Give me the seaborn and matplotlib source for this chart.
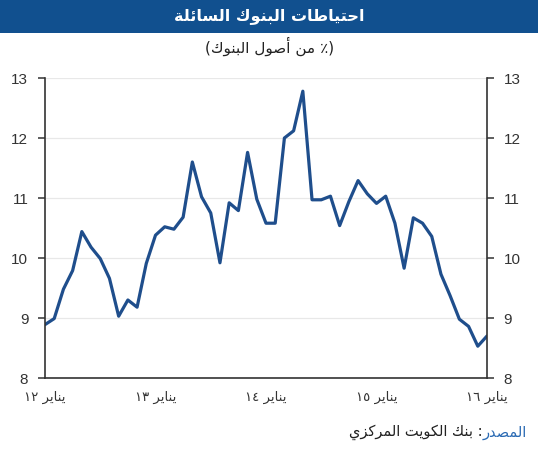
import re
import matplotlib
matplotlib.use("Agg")
import matplotlib.pyplot as plt
import seaborn as sns
import pandas as pd
from matplotlib.patches import Rectangle
from matplotlib.ticker import MultipleLocator

# ---------------- data ----------------
months = list(range(49))  # Jan 2012 .. Jan 2016, monthly
reserves = [8.89, 8.99, 9.48, 9.79, 10.44, 10.18, 9.99, 9.66, 9.03, 9.30, 9.18, 9.91,
            10.38, 10.52, 10.48, 10.68, 11.60, 11.02, 10.75, 9.92, 10.92, 10.79, 11.76, 10.98,
            10.58, 10.58, 12.00, 12.12, 12.78, 10.97, 10.97, 11.03, 10.54, 10.94, 11.29, 11.07,
            10.91, 11.03, 10.58, 9.83, 10.67, 10.58, 10.36, 9.73, 9.37, 8.98, 8.86, 8.53, 8.70]
xtick_pos = [0, 12, 24, 36, 48]
xtick_labels = ["يناير ١٢", "يناير ١٣", "يناير ١٤", "يناير ١٥", "يناير ١٦"]
ytick_vals = [8, 9, 10, 11, 12, 13]
title = "احتياطات البنوك السائلة"
subtitle = "(٪ من أصول البنوك)"
source_label = "المصدر"
source_text = ": بنك الكويت المركزي"

# ---------------- minimal Arabic shaping ----------------
FORMS = {
    '\u0627': (0xFE8D, 0xFE8E, None, None),
    '\u0623': (0xFE83, 0xFE84, None, None),
    '\u0628': (0xFE8F, 0xFE90, 0xFE91, 0xFE92),
    '\u0629': (0xFE93, 0xFE94, None, None),
    '\u062A': (0xFE95, 0xFE96, 0xFE97, 0xFE98),
    '\u062D': (0xFEA1, 0xFEA2, 0xFEA3, 0xFEA4),
    '\u062F': (0xFEA9, 0xFEAA, None, None),
    '\u0631': (0xFEAD, 0xFEAE, None, None),
    '\u0632': (0xFEAF, 0xFEB0, None, None),
    '\u0633': (0xFEB1, 0xFEB2, 0xFEB3, 0xFEB4),
    '\u0635': (0xFEB9, 0xFEBA, 0xFEBB, 0xFEBC),
    '\u0637': (0xFEC1, 0xFEC2, 0xFEC3, 0xFEC4),
    '\u0643': (0xFED9, 0xFEDA, 0xFEDB, 0xFEDC),
    '\u0644': (0xFEDD, 0xFEDE, 0xFEDF, 0xFEE0),
    '\u0645': (0xFEE1, 0xFEE2, 0xFEE3, 0xFEE4),
    '\u0646': (0xFEE5, 0xFEE6, 0xFEE7, 0xFEE8),
    '\u0648': (0xFEED, 0xFEEE, None, None),
    '\u064A': (0xFEF1, 0xFEF2, 0xFEF3, 0xFEF4),
    '\u0626': (0xFE89, 0xFE8A, 0xFE8B, 0xFE8C),
}
DIG = "0123456789\u0660\u0661\u0662\u0663\u0664\u0665\u0666\u0667\u0668\u0669"
MIRROR = str.maketrans("()", ")(")


def _joins_left(c):
    return c in FORMS and FORMS[c][2] is not None


def shape(s):
    res = []
    n = len(s)
    for i, c in enumerate(s):
        if c not in FORMS:
            res.append(c)
            continue
        prev = s[i - 1] if i > 0 else None
        nxt = s[i + 1] if i + 1 < n else None
        jp = prev is not None and _joins_left(prev)
        jn = _joins_left(c) and nxt is not None and nxt in FORMS
        iso, fin, ini, med = FORMS[c]
        if jp and jn:
            g = med
        elif jp:
            g = fin
        elif jn:
            g = ini
        else:
            g = iso
        res.append(chr(g))
    return "".join(res)


def rtl(s):
    shaped = shape(s)
    runs = re.findall(r"[%s]+|[^%s]+" % (DIG, DIG), shaped)
    out = []
    for r in reversed(runs):
        if r[0] in DIG:
            out.append(r)
        else:
            out.append(r[::-1].translate(MIRROR))
    return "".join(out)


# ---------------- plot ----------------
sns.set_style("white")
plt.rcParams["font.family"] = ["Liberation Sans", "DejaVu Sans"]
AR = ["DejaVu Sans"]

fig = plt.figure(figsize=(5.38, 4.5), dpi=100)
ax = fig.add_axes([45 / 538, 72 / 450, 442 / 538, 300 / 450])

df = pd.DataFrame({"month": months, "reserves": reserves})
sns.lineplot(data=df, x="month", y="reserves", ax=ax, color="#1f4e8c", lw=2.3)

ax.set_xlim(0, 48)
ax.set_ylim(8, 13)
ax.set_yticks(ytick_vals)
ax.set_yticklabels([str(v) for v in ytick_vals])
ax.set_xticks(xtick_pos)
ax.set_xticklabels([rtl(t) for t in xtick_labels], family=AR, fontsize=9.5, color="#333333")
ax.xaxis.set_minor_locator(MultipleLocator(1))
ax.set_xlabel("")
ax.set_ylabel("")

ax.yaxis.grid(True, color="#e8e8e8", lw=0.9)
ax.xaxis.grid(False)
ax.set_axisbelow(True)

for side in ["left", "right", "bottom"]:
    ax.spines[side].set_visible(True)
    ax.spines[side].set_color("#333333")
    ax.spines[side].set_linewidth(1.2)
ax.spines["top"].set_visible(False)

ax.tick_params(axis="y", which="both", left=True, right=True, labelleft=True, labelright=True,
               direction="out", length=5, width=1.1, color="#333333", labelsize=11,
               labelcolor="#333333", pad=7)
ax.tick_params(axis="x", which="major", direction="inout", length=9, width=1.1, color="#333333",
               pad=5)
ax.tick_params(axis="x", which="minor", direction="in", length=4, width=0.9, color="#333333")

# title band
fig.patches.append(Rectangle((0, 1 - 33 / 450), 1, 33 / 450, transform=fig.transFigure,
                             facecolor="#11508f", edgecolor="none", zorder=0))
fig.text(269 / 538, 1 - 16 / 450, rtl(title), ha="center", va="center", color="white",
         fontsize=11.5, fontweight="bold", family=AR)
fig.text(270 / 538, 1 - 46 / 450, rtl(subtitle),
         ha="center", va="center", color="#222222", fontsize=11, family=AR)

# source line
fig.canvas.draw()
r = fig.canvas.get_renderer()
t1 = fig.text(527 / 538, 1 - 432 / 450, rtl(source_label), ha="right", va="center",
              color="#2a6ab3", fontsize=10.5, family=AR)
bb = t1.get_window_extent(renderer=r)
x_left = bb.x0 / fig.bbox.width
fig.text(x_left, 1 - 432 / 450, rtl(source_text), ha="right", va="center",
         color="#222222", fontsize=10.5, family=AR)

fig.savefig("out.png", dpi=100)
